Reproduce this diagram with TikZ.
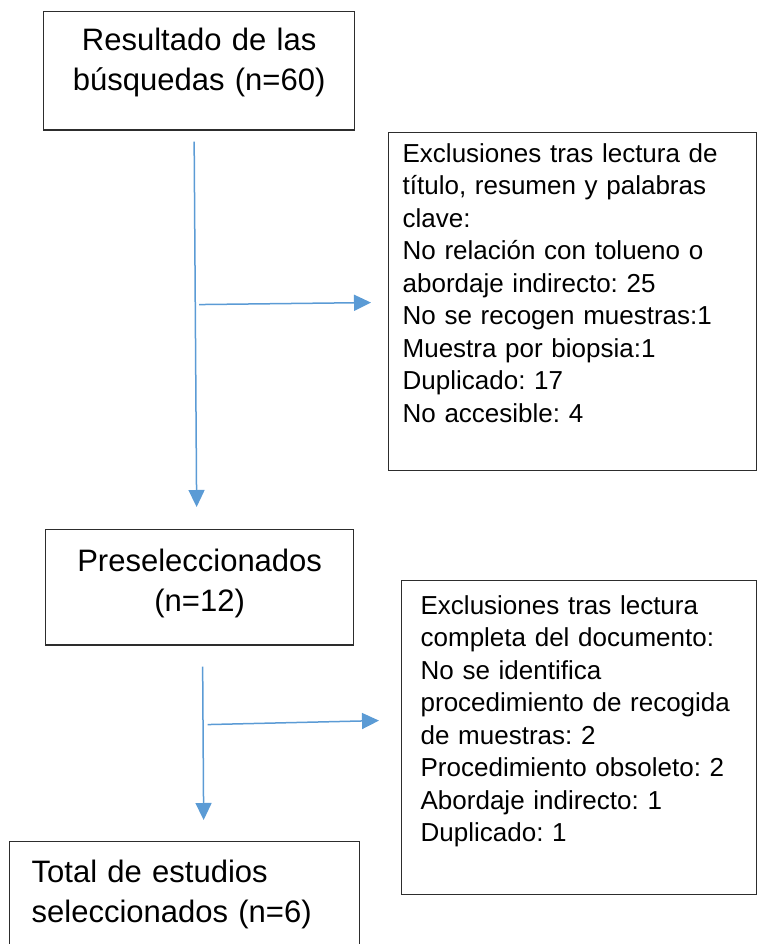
\documentclass[tikz,border=0pt]{standalone}
\usepackage{fontspec}
\setmainfont{Liberation Sans}
\usetikzlibrary{calc,positioning,arrows.meta}
\definecolor{flowblue}{RGB}{91,155,213}
\definecolor{boxline}{RGB}{45,45,45}
\tikzset{
  bigbox/.style={draw=boxline, line width=1.3pt, rectangle, anchor=north west,
    font=\fontsize{31}{40}\selectfont\frenchspacing, inner xsep=10pt},
  exbox/.style={draw=boxline, line width=1.3pt, rectangle, anchor=north west,
    font=\fontsize{26}{32.5}\selectfont\frenchspacing, align=left},
  flow/.style={->, draw=flowblue, line width=1.5pt}
}
\begin{document}
\begin{tikzpicture}[x=1pt, y=-1pt, >={Triangle[length=17pt,width=16pt]}]
\useasboundingbox (0,0) rectangle (757,944);

% main column
\node (res) [bigbox, text width=291pt, align=center, inner ysep=16.8pt, text depth=62.2pt]
  at (43,11) {Resultado de las\\búsquedas (n=60)};
\node (presel) [bigbox, text width=288pt, align=center, inner ysep=19.8pt, text depth=53.2pt]
  at (45,529) {Preseleccionados\\(n=12)};
\node (total) [bigbox, text width=306pt, align=left, inner xsep=22pt, inner ysep=18.8pt, text depth=60pt]
  at (9,841) {Total de estudios\\seleccionados (n=6)};

% exclusion boxes
\node (excl1) [exbox, text width=340pt, inner xsep=14pt, inner ysep=11pt, text depth=297pt]
  at (388,132) {Exclusiones tras lectura de\\título, resumen y palabras\\clave:\\No relación con tolueno o\\abordaje indirecto: 25\\No se recogen muestras:1\\Muestra por biopsia:1\\Duplicado: 17\\No accesible: 4};
\node (excl2) [exbox, text width=317pt, inner xsep=19pt, inner ysep=15pt, text depth=265pt]
  at (401,580) {Exclusiones tras lectura\\completa del documento:\\No se identifica\\procedimiento de recogida\\de muestras: 2\\Procedimiento obsoleto: 2\\Abordaje indirecto: 1\\Duplicado: 1};

% arrows
\draw[flow] ($(res.south)+(-5,11)$) -- ($(presel.north)+(-3,-22)$);
\draw[flow] ($(res.south |- excl1.west)+(0,3)$) -- ($(excl1.west)+(-17,1)$);
\draw[flow] ($(presel.south)+(3,21)$) -- ($(presel.south |- total.north)+(4,-21)$);
\draw[flow] ($(presel.south |- excl2.west)+(8,-13)$) -- ($(excl2.west)+(-22,-17)$);

\end{tikzpicture}
\end{document}
